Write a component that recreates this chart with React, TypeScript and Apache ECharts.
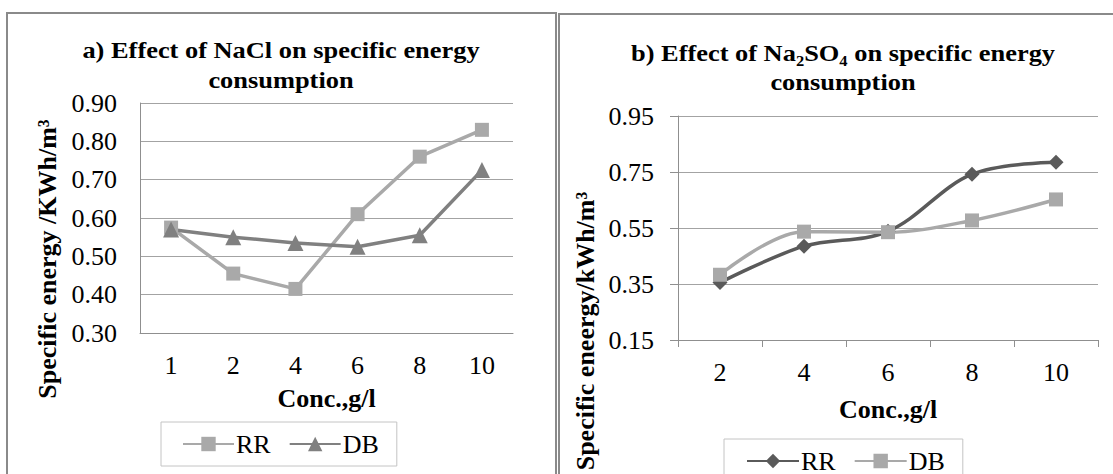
import React, { useEffect, useRef } from "react";
import * as echarts from "echarts";

const catsA = ["1", "2", "4", "6", "8", "10"];
const rrA = [0.575, 0.455, 0.415, 0.61, 0.76, 0.83];
const dbA = [0.57, 0.55, 0.535, 0.525, 0.555, 0.725];

const catsB = ["2", "4", "6", "8", "10"];
const rrB = [0.355, 0.485, 0.538, 0.742, 0.785];
const dbB = [0.383, 0.537, 0.535, 0.577, 0.652];

const yRangeA = [0.3, 0.9];
const yStepA = 0.1;
const yRangeB = [0.15, 0.95];
const yStepB = 0.2;

const seriesNames = ["RR", "DB"];

const FONT = "'Liberation Serif', 'Times New Roman', serif";
const LIGHT = "#a9a9a9";
const DARK_A = "#808080";
const DARK_B = "#5a5a5a";
const GRID = "#a3a3a3";
const AXIS = "#8f8f8f";

export default function App() {
  const ref = useRef<HTMLDivElement>(null);
  useEffect(() => {
    if (!ref.current) return;
    const chart = echarts.init(ref.current, undefined, { renderer: "svg" });
    const labelStyle = { fontFamily: FONT, fontSize: 26, color: "#000" };
    const titleStyle = (text: string, x: number, y: number, rich?: any) => ({
      type: "text",
      x,
      y,
      scaleX: 1.1,
      style: {
        text,
        fontFamily: FONT,
        fontSize: 24,
        fontWeight: "bold",
        fill: "#000",
        textAlign: "center",
        textVerticalAlign: "middle",
        rich,
      },
    });
    const richB = {
      b: { fontFamily: FONT, fontSize: 24, fontWeight: "bold", fill: "#000", lineHeight: 30 },
      s: {
        fontFamily: FONT,
        fontSize: 15,
        fontWeight: "bold",
        fill: "#000",
        verticalAlign: "bottom",
        lineHeight: 30,
      },
    };
    const option: any = {
      animation: false,
      backgroundColor: "#fff",
      textStyle: { fontFamily: FONT },
      grid: [
        { left: 140, top: 103, width: 373, height: 230 },
        { left: 678, top: 116, width: 420, height: 224 },
      ],
      xAxis: [
        {
          type: "category",
          gridIndex: 0,
          data: catsA,
          boundaryGap: true,
          axisLine: { lineStyle: { color: AXIS, width: 1 } },
          axisTick: { show: false },
          axisLabel: { ...labelStyle, margin: 19 },
          name: "Conc.,g/l",
          nameLocation: "middle",
          nameGap: 52,
          nameTextStyle: { fontFamily: FONT, fontSize: 26, fontWeight: "bold", color: "#000" },
        },
        {
          type: "category",
          gridIndex: 1,
          data: catsB,
          boundaryGap: true,
          axisLine: { lineStyle: { color: AXIS, width: 1 } },
          axisTick: { show: true, length: 7, lineStyle: { color: AXIS } },
          axisLabel: { ...labelStyle, margin: 19 },
          name: "Conc.,g/l",
          nameLocation: "middle",
          nameGap: 56,
          nameTextStyle: { fontFamily: FONT, fontSize: 26, fontWeight: "bold", color: "#000" },
        },
      ],
      yAxis: [
        {
          type: "value",
          gridIndex: 0,
          min: yRangeA[0],
          max: yRangeA[1],
          interval: yStepA,
          axisLine: { show: true, lineStyle: { color: AXIS } },
          axisTick: { show: false },
          splitLine: { lineStyle: { color: GRID, width: 1 } },
          axisLabel: { ...labelStyle, margin: 23, formatter: (v: number) => v.toFixed(2) },
        },
        {
          type: "value",
          gridIndex: 1,
          min: yRangeB[0],
          max: yRangeB[1],
          interval: yStepB,
          axisLine: { show: true, lineStyle: { color: AXIS } },
          axisTick: { show: true, length: 8, lineStyle: { color: AXIS } },
          splitLine: { lineStyle: { color: GRID, width: 1 } },
          axisLabel: { ...labelStyle, margin: 24, formatter: (v: number) => v.toFixed(2) },
        },
      ],
      legend: [
        {
          data: ["a:" + seriesNames[0], "a:" + seriesNames[1]],
          left: 161,
          top: 422,
          orient: "horizontal",
          itemWidth: 51,
          itemHeight: 18,
          itemGap: 18,
          padding: [9, 18, 9, 21],
          borderColor: "#c4c4c4",
          borderWidth: 1,
          borderRadius: 0,
          formatter: (n: string) => n.slice(2),
          textStyle: { fontFamily: FONT, fontSize: 26, color: "#000", padding: [0, 0, 0, -3] },
        },
        {
          data: ["b:" + seriesNames[0], "b:" + seriesNames[1]],
          left: 724,
          top: 439,
          orient: "horizontal",
          itemWidth: 52,
          itemHeight: 18,
          itemGap: 18,
          padding: [9, 18, 9, 22],
          borderColor: "#c4c4c4",
          borderWidth: 1,
          borderRadius: 0,
          formatter: (n: string) => n.slice(2),
          textStyle: { fontFamily: FONT, fontSize: 26, color: "#000", padding: [0, 0, 0, -3] },
        },
      ],
      series: [
        {
          name: "a:" + seriesNames[0],
          type: "line",
          xAxisIndex: 0,
          yAxisIndex: 0,
          data: rrA,
          symbol: "rect",
          symbolSize: 14,
          color: LIGHT,
          lineStyle: { color: LIGHT, width: 3.5 },
          itemStyle: { color: LIGHT },
        },
        {
          name: "a:" + seriesNames[1],
          type: "line",
          xAxisIndex: 0,
          yAxisIndex: 0,
          data: dbA,
          symbol: "triangle",
          symbolSize: 16,
          color: DARK_A,
          lineStyle: { color: DARK_A, width: 3.5 },
          itemStyle: { color: DARK_A },
        },
        {
          name: "b:" + seriesNames[0],
          type: "line",
          xAxisIndex: 1,
          yAxisIndex: 1,
          data: rrB,
          symbol: "diamond",
          symbolSize: 15,
          smooth: 0.35,
          color: DARK_B,
          lineStyle: { color: DARK_B, width: 3.5 },
          itemStyle: { color: DARK_B },
        },
        {
          name: "b:" + seriesNames[1],
          type: "line",
          xAxisIndex: 1,
          yAxisIndex: 1,
          data: dbB,
          symbol: "rect",
          symbolSize: 14,
          smooth: 0.35,
          color: LIGHT,
          lineStyle: { color: LIGHT, width: 3.5 },
          itemStyle: { color: LIGHT },
        },
      ],
      graphic: [
        {
          type: "rect",
          shape: { x: 7, y: 13, width: 549, height: 520 },
          style: { fill: "none", stroke: "#8a8a8a", lineWidth: 2 },
          z: -1,
        },
        {
          type: "rect",
          shape: { x: 559, y: 14, width: 600, height: 520 },
          style: { fill: "none", stroke: "#8a8a8a", lineWidth: 2 },
          z: -1,
        },
        titleStyle("a) Effect of NaCl on specific energy", 281, 50),
        titleStyle("consumption", 281, 80),
        titleStyle(
          "{b|b) Effect of Na}{s|2}{b|SO}{s|4}{b| on specific energy}",
          843,
          53,
          richB
        ),
        titleStyle("consumption", 843, 82),
        {
          type: "text",
          x: 47,
          y: 259,
          rotation: Math.PI / 2,
          style: {
            text: "Specific energy /KWh/m³",
            fontFamily: FONT,
            fontSize: 26,
            fontWeight: "bold",
            fill: "#000",
            textAlign: "center",
            textVerticalAlign: "middle",
          },
        },
        {
          type: "text",
          x: 585,
          y: 331,
          rotation: Math.PI / 2,
          style: {
            text: "Specific eneergy/kWh/m³",
            fontFamily: FONT,
            fontSize: 26,
            fontWeight: "bold",
            fill: "#000",
            textAlign: "center",
            textVerticalAlign: "middle",
          },
        },
      ],
    };
    chart.setOption(option);
    return () => chart.dispose();
  }, []);
  return (
    <div
      ref={ref}
      style={{ position: "absolute", left: 0, top: 0, width: 1113, height: 474 }}
    />
  );
}
